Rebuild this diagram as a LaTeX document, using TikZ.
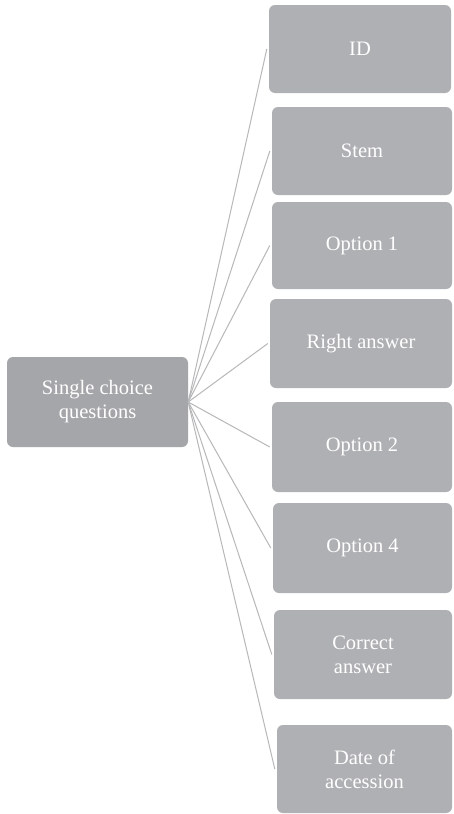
\documentclass[tikz,border=0pt]{standalone}
\usepackage{fontspec}
\setmainfont{Liberation Serif}
\definecolor{hubgray}{HTML}{A5A6A9}
\definecolor{leafgray}{HTML}{AFB0B3}
\definecolor{linkgray}{HTML}{B7B8BA}
\tikzset{
  boxbase/.style={rectangle, rounded corners=6pt, inner sep=0pt, text=white, align=center,
    font=\fontsize{20.5}{24}\selectfont},
  hubbox/.style={boxbase, fill=hubgray},
  leafbox/.style={boxbase, fill=leafgray},
  link/.style={draw=linkgray, line width=1pt}
}
\newcommand{\leaf}[6]{% name, left, top, right, bottom, text
  \node[leafbox, minimum width={(#4-#2)*1pt}, minimum height={(#5-#3)*1pt}] (#1) at ({(#2+#4)/2},{(#3+#5)/2}) {#6};
}
\begin{document}
\begin{tikzpicture}[x=1pt, y=-1pt]
\useasboundingbox[fill=white] (0,0) rectangle (453,814);
\node[hubbox, minimum width=181pt, minimum height=90pt] (hub) at (97.5,402) {Single choice\\questions};
\leaf{id}{269}{5}{451}{93}{ID}
\leaf{stem}{272}{107}{452}{195}{Stem}
\leaf{opt1}{272}{202}{452}{289}{Option 1}
\leaf{right}{270}{299}{452}{388}{Right answer}
\leaf{opt2}{272}{402}{452}{492}{Option 2}
\leaf{opt4}{273}{503}{452}{593}{Option 4}
\leaf{correct}{274}{610}{452}{699}{Correct\\answer}
\leaf{date}{277}{725}{452}{813}{Date of\\accession}
\foreach \b in {id,stem,opt1,right,opt2,opt4,correct,date}
  \draw[link] (hub.east) -- ([xshift=-2pt]\b.west);
\end{tikzpicture}
\end{document}
